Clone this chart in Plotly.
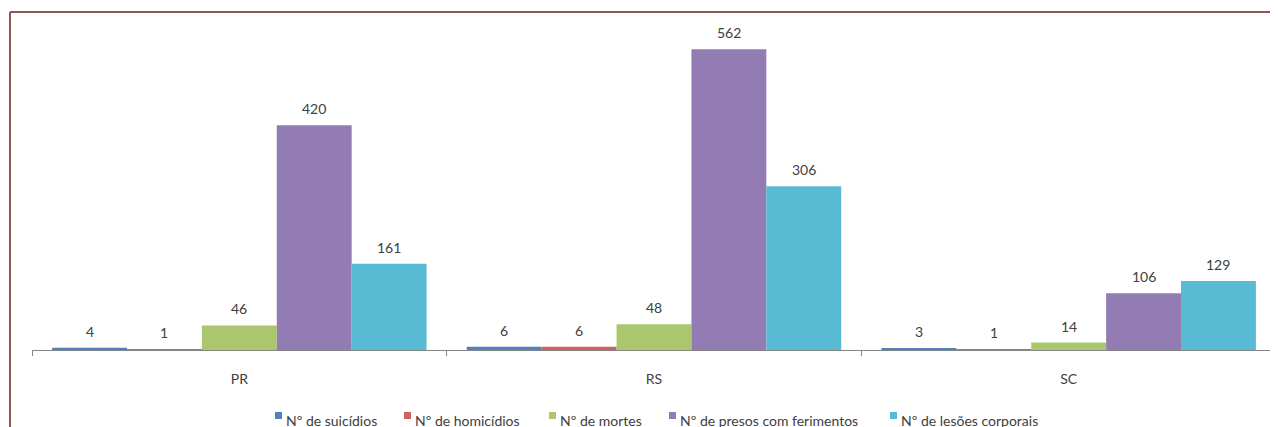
import plotly.graph_objects as go

estados = ['PR', 'RS', 'SC']
suicidios = [4, 6, 3]
homicidios = [1, 6, 1]
mortes = [46, 48, 14]
presos_feridos = [420, 562, 106]
lesoes = [161, 306, 129]

nomes = ['Nº de suicídios', 'Nº de homicídios', 'Nº de mortes',
         'Nº de presos com ferimentos', 'Nº de lesões corporais']
valores = [suicidios, homicidios, mortes, presos_feridos, lesoes]
cores = ['#4f81bd', '#d0635f', '#abc76e', '#937cb3', '#58bbd3']

font = 'Lato'
bargap = 0.097

# page has an 8px body margin, plot area sits at page x 32..1276, y 29..350
W, H0 = 1244, 321
def px(x):
    return (x - 32) / W
def py(y):
    return (350 - y) / H0

fig = go.Figure()
annotations = []
n = len(nomes)
bar_w = W / len(estados) * (1 - bargap) / n
for i, (name, vals, c) in enumerate(zip(nomes, valores, cores)):
    fig.add_trace(go.Bar(x=estados, y=vals, name=name, marker=dict(color=c, line=dict(width=0))))
    # data labels, Excel puts them a bit higher than plotly's "outside"
    for est, v in zip(estados, vals):
        annotations.append(dict(x=est, y=v, text=str(v), showarrow=False, yanchor='bottom',
                                xshift=(i - (n - 1) / 2) * bar_w, yshift=6,
                                font=dict(size=14, color='#404040', family=font)))

leg_x = [275, 404, 549, 669, 890]
shapes = [
    dict(type='line', xref='paper', yref='paper', x0=px(10), x1=px(1290), y0=py(12), y1=py(12),
         line=dict(color='#8c5a54', width=2)),
    dict(type='line', xref='paper', yref='paper', x0=px(10), x1=px(10), y0=py(12), y1=py(440),
         line=dict(color='#8c5a54', width=2)),
]
for name, c, lx in zip(nomes, cores, leg_x):
    shapes.append(dict(type='rect', xref='paper', yref='paper', x0=px(lx), x1=px(lx + 7),
                       y0=py(412), y1=py(419), fillcolor=c, line=dict(width=0)))
    annotations.append(dict(text=name, xref='paper', yref='paper', x=px(lx + 9), y=py(420),
                            xanchor='left', yanchor='middle', showarrow=False,
                            font=dict(size=14, color='#404040', family=font)))

fig.update_layout(
    width=1278, height=427,
    margin=dict(l=24, r=10, t=21, b=85, autoexpand=False),
    paper_bgcolor='white', plot_bgcolor='white',
    barmode='group', bargap=bargap, bargroupgap=0,
    font=dict(family=font, size=14, color='#404040'),
    showlegend=False,
    xaxis=dict(showline=True, linecolor='#868686', linewidth=1, ticks='outside', tickson='boundaries',
               ticklen=5, tickcolor='#868686', tickfont=dict(size=14, color='#404040'), showgrid=False,
               ticklabelstandoff=16),
    yaxis=dict(range=[0, 600], visible=False, showgrid=False, zeroline=False),
    shapes=shapes,
    annotations=annotations,
)

fig.write_html("out.html")
